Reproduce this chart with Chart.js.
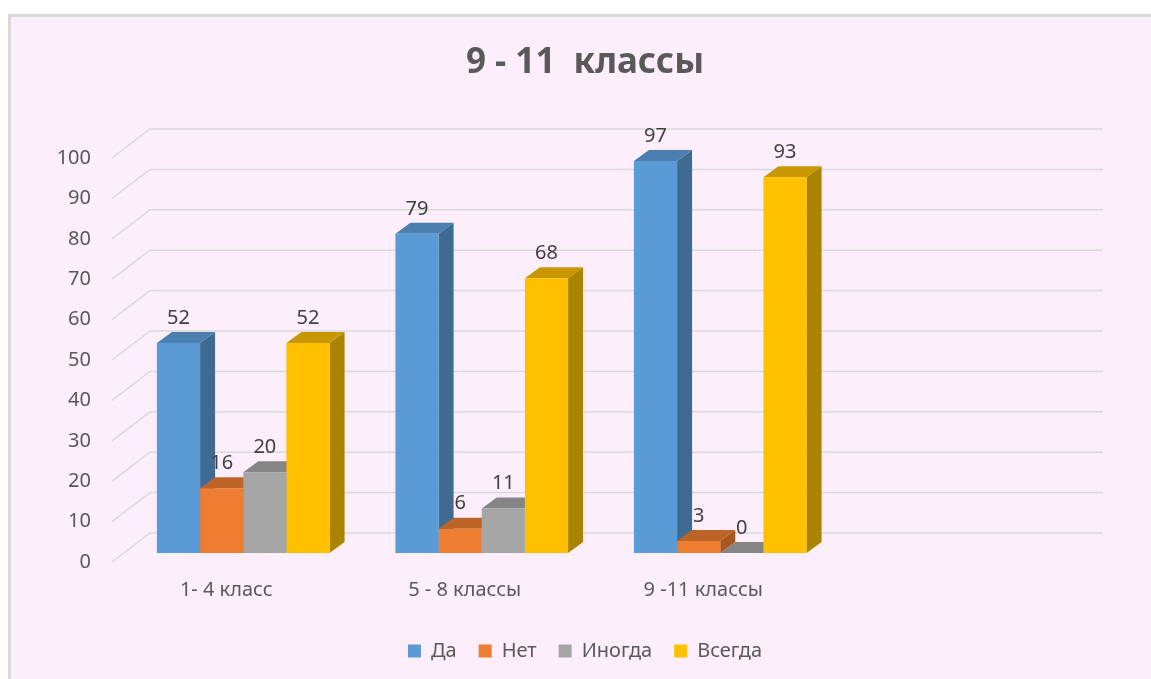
<!DOCTYPE html>
<html>
<head>
<meta charset="utf-8">
<script src="https://cdn.jsdelivr.net/npm/chart.js@4"></script>
<style>
  body { margin: 0; background: #ffffff; overflow: hidden; }
  canvas { display: block; }
</style>
</head>
<body>
<canvas id="chart" width="1151" height="679"></canvas>
<script>
const categories = ['1- 4 класс', '5 - 8 классы', '9 -11 классы', ''];
const seriesNames = ['Да', 'Нет', 'Иногда', 'Всегда'];
const daValues = [52, 79, 97, null];
const netValues = [16, 6, 3, null];
const inogdaValues = [20, 11, 0, null];
const vsegdaValues = [52, 68, 93, null];
const yTicks = [0, 10, 20, 30, 40, 50, 60, 70, 80, 90, 100];

const frontColors = ['#5B9BD5', '#ED7D31', '#A5A5A5', '#FFC000'];
const topColors = ['#4B7FB0', '#BC6328', '#858585', '#C89700'];
const sideColors = ['#3F6A91', '#A7561F', '#7A7A7A', '#AA8300'];

const DX = 15, DY = 11; // bar depth

// page background with the thin frame on top / left
const backgroundPlugin = {
  id: 'background',
  beforeDraw(chart) {
    const ctx = chart.ctx;
    ctx.save();
    ctx.fillStyle = '#ffffff';
    ctx.fillRect(0, 0, chart.width, chart.height);
    ctx.fillStyle = '#D9D9D9';
    ctx.fillRect(8, 14, chart.width - 8, chart.height - 14);
    ctx.fillStyle = '#FDEEFC';
    ctx.fillRect(11, 17, chart.width - 11, chart.height - 17);
    ctx.restore();
  }
};

// 3d style gridlines: front edge, diagonal, back wall
const gridPlugin = {
  id: 'grid3d',
  beforeDatasetsDraw(chart) {
    const { ctx, chartArea, scales } = chart;
    ctx.save();
    ctx.strokeStyle = '#D9D9D9';
    ctx.lineWidth = 1.5;
    yTicks.forEach(v => {
      const y = scales.y.getPixelForValue(v);
      ctx.beginPath();
      ctx.moveTo(chartArea.left - 12, y + 9);
      ctx.lineTo(chartArea.left + 26, y - 20);
      ctx.lineTo(chartArea.right + 25, y - 20);
      ctx.stroke();
    });

    // sides and tops of the bars, left to right
    for (let i = 0; i < categories.length; i++) {
      chart.data.datasets.forEach((ds, j) => {
        if (ds.data[i] === null) return;
        const bar = chart.getDatasetMeta(j).data[i];
        const { x, y, base, width } = bar.getProps(['x', 'y', 'base', 'width'], true);
        const l = x - width / 2, r = x + width / 2;
        ctx.fillStyle = sideColors[j];
        ctx.beginPath();
        ctx.moveTo(r, y);
        ctx.lineTo(r + DX, y - DY);
        ctx.lineTo(r + DX, base - DY);
        ctx.lineTo(r, base);
        ctx.closePath();
        ctx.fill();
        ctx.fillStyle = topColors[j];
        ctx.beginPath();
        ctx.moveTo(l, y);
        ctx.lineTo(l + DX, y - DY);
        ctx.lineTo(r + DX, y - DY);
        ctx.lineTo(r, y);
        ctx.closePath();
        ctx.fill();
      });
    }
    ctx.restore();
  }
};

const labelPlugin = {
  id: 'valueLabels',
  afterDatasetsDraw(chart) {
    const ctx = chart.ctx;
    ctx.save();
    ctx.fillStyle = '#404040';
    ctx.font = '20px "Noto Sans"';
    ctx.textAlign = 'center';
    ctx.textBaseline = 'middle';
    chart.data.datasets.forEach((ds, j) => {
      chart.getDatasetMeta(j).data.forEach((bar, i) => {
        if (ds.data[i] === null) return;
        ctx.fillText(String(ds.data[i]), bar.x, bar.y - 25);
      });
    });
    ctx.restore();
  }
};

const seriesValues = [daValues, netValues, inogdaValues, vsegdaValues];

new Chart(document.getElementById('chart'), {
  type: 'bar',
  data: {
    labels: categories,
    datasets: seriesNames.map((name, j) => ({
      label: name,
      data: seriesValues[j],
      backgroundColor: frontColors[j],
      borderWidth: 0,
      barPercentage: 1,
      categoryPercentage: 0.724
    }))
  },
  options: {
    responsive: false,
    animation: false,
    layout: { padding: { left: 19, right: 0, top: 0, bottom: 8 } },
    scales: {
      x: {
        grid: { display: false, drawTicks: false },
        border: { display: false },
        ticks: {
          color: '#595959',
          font: { family: 'Noto Sans', size: 20 },
          padding: 25,
          labelOffset: -17,
          maxRotation: 0
        },
        afterFit(scale) { scale.height = 66; }
      },
      y: {
        min: 0,
        max: 100,
        grid: { display: false, drawTicks: false },
        border: { display: false },
        ticks: {
          stepSize: 10,
          color: '#595959',
          font: { family: 'Noto Sans', size: 20 },
          padding: 33,
          labelOffset: 9
        },
        afterFit(scale) { scale.width = 105; }
      },
      // empty box on the right, keeps the plot where the original has it
      yRight: {
        type: 'linear',
        position: 'right',
        grid: { display: false, drawTicks: false },
        border: { display: false },
        ticks: { display: false },
        afterFit(scale) { scale.width = 73; }
      }
    },
    plugins: {
      title: {
        display: true,
        text: '9 - 11  классы',
        color: '#595959',
        font: { family: 'Noto Sans', size: 35, weight: 'bold' },
        padding: { top: 42, bottom: 65 }
      },
      legend: {
        position: 'bottom',
        labels: {
          color: '#595959',
          font: { family: 'Noto Sans', size: 20 },
          boxWidth: 13,
          boxHeight: 13,
          padding: 22
        }
      },
      tooltip: { enabled: false }
    }
  },
  plugins: [backgroundPlugin, gridPlugin, labelPlugin]
});
</script>
</body>
</html>
